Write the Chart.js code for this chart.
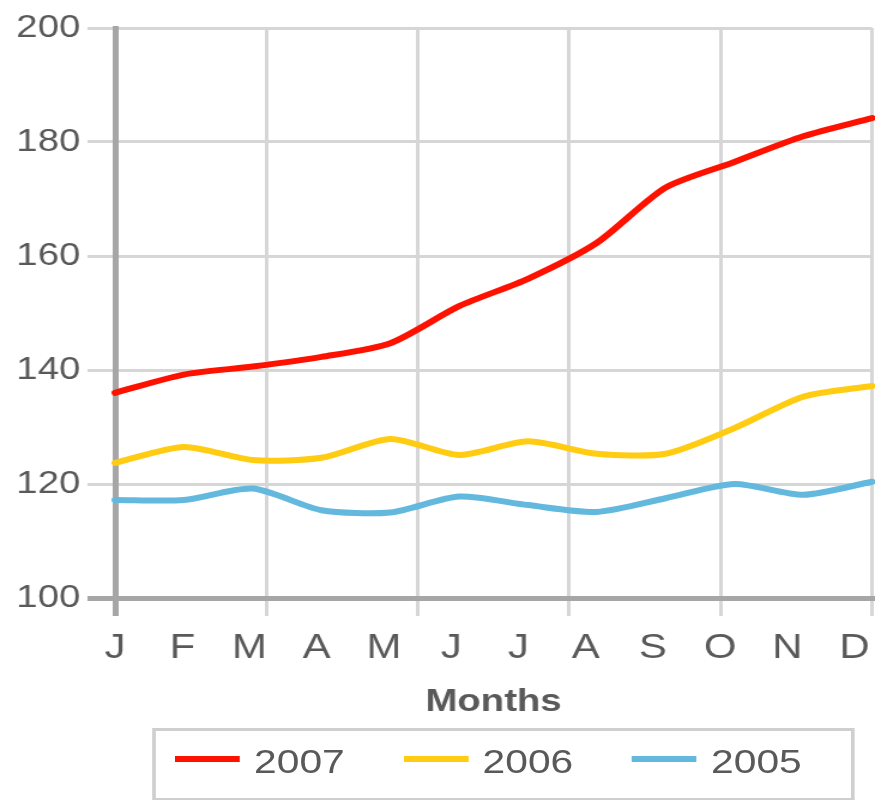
<!DOCTYPE html>
<html>
<head>
<meta charset="utf-8">
<script src="https://cdn.jsdelivr.net/npm/chart.js@4/dist/chart.umd.min.js"></script>
<style>
  html, body { margin: 0; padding: 0; background: #fff; overflow: hidden; }
  /* the reference is horizontally stretched, so draw narrow and scale */
  #wrap { position: relative; width: 730px; height: 800px; transform: scaleX(1.1986); transform-origin: 0 0; }
  #legend {
    position: absolute; left: 127px; top: 728px; width: 586px; height: 72px;
    box-sizing: border-box; border: 3px solid #cfcfcf; border-bottom-width: 2px;
    padding: 13px 0 0 16px; display: flex; align-items: flex-start;
    font-family: "Liberation Sans", Arial, sans-serif; font-size: 34px; color: #595959;
  }
  .item { display: flex; align-items: center; height: 34px; line-height: 34px; margin-right: 49px; }
  .swatch { width: 54px; height: 6px; margin-right: 12px; position: relative; top: -2px; }
</style>
</head>
<body>
<div id="wrap">
  <canvas id="chart" width="730" height="800"></canvas>
  <div id="legend"></div>
</div>
<script>
// Data
var monthLabels = ['J', 'F', 'M', 'A', 'M', 'J', 'J', 'A', 'S', 'O', 'N', 'D'];
var seriesNames = ['2007', '2006', '2005'];
var values2007 = [136, 139.2, 140.6, 142.3, 144.7, 151.2, 156, 162.3, 172, 176.5, 181, 184.2];
var values2006 = [123.7, 126.5, 124.2, 124.6, 127.9, 125.1, 127.5, 125.3, 125.3, 129.8, 135.3, 137.2];
var values2005 = [117.2, 117.2, 119.2, 115.4, 115, 117.8, 116.3, 115.1, 117.5, 120, 118.1, 120.4];
var yTicks = [100, 120, 140, 160, 180, 200];

var colors = ['#ff1100', '#ffcc11', '#63b8de'];
var axisGray = '#a6a6a6';
var gridGray = '#d6d6d6';
var textGray = '#595959';
var fontFamily = '"Liberation Sans", Arial, sans-serif';

var ctx = document.getElementById('chart');
var chart = new Chart(ctx, {
  type: 'line',
  data: {
    labels: monthLabels,
    datasets: [values2007, values2006, values2005].map(function(vals, i) {
      return {
        label: seriesNames[i],
        data: vals,
        borderColor: colors[i],
        backgroundColor: colors[i],
        borderWidth: 6,
        pointRadius: 0,
        tension: 0.25,
        borderJoinStyle: 'round',
        borderCapStyle: 'round',
        fill: false
      };
    })
  },
  options: {
    responsive: false,
    animation: false,
    devicePixelRatio: 1,
    layout: { padding: { top: 28, right: 2.5, bottom: 72, left: 0 } },
    plugins: {
      legend: { display: false },
      tooltip: { enabled: false }
    },
    scales: {
      x: { type: 'category', display: false, offset: false },
      vgrid: {
        type: 'linear', axis: 'x', position: 'bottom', weight: 0,
        min: 0, max: 5,
        ticks: { display: false, stepSize: 1 },
        grid: {
          color: function(c) { return c.index === 0 ? axisGray : gridGray; },
          lineWidth: function(c) { return c.index === 0 ? 5 : 3; },
          tickLength: 18
        },
        border: { display: true, color: axisGray, width: 5 },
        afterFit: function(s) { s.paddingLeft = 0; s.paddingRight = 0; }
      },
      months: {
        type: 'linear', axis: 'x', position: 'bottom', weight: 1,
        min: 0, max: 11.26,
        afterBuildTicks: function(s) {
          s.ticks = monthLabels.map(function(_, i) { return { value: i }; });
        },
        ticks: {
          autoSkip: false, maxRotation: 0, padding: 11,
          color: textGray,
          font: { family: fontFamily, size: 35 },
          callback: function(v) { return monthLabels[v]; }
        },
        grid: { display: false, drawTicks: false },
        border: { display: false },
        title: {
          display: true, text: 'Months', color: textGray,
          font: { family: fontFamily, size: 32, weight: 'bold' },
          padding: { top: 0, bottom: 7 }
        },
        afterFit: function(s) { s.height = 112; s.paddingLeft = 0; s.paddingRight = 0; }
      },
      y: {
        min: 100, max: 200,
        afterBuildTicks: function(s) {
          s.ticks = yTicks.map(function(v) { return { value: v }; });
        },
        ticks: {
          padding: 6, color: textGray,
          font: { family: fontFamily, size: 32 }
        },
        grid: {
          color: function(c) { return c.tick && c.tick.value === 100 ? axisGray : gridGray; },
          lineWidth: function(c) { return c.tick && c.tick.value === 100 ? 5 : 3; },
          tickLength: 23
        },
        border: { display: true, color: axisGray, width: 5 },
        afterFit: function(s) { s.width = 96; }
      }
    }
  }
});

// HTML legend built from the datasets
var legend = document.getElementById('legend');
chart.data.datasets.forEach(function(ds) {
  var item = document.createElement('div');
  item.className = 'item';
  var sw = document.createElement('span');
  sw.className = 'swatch';
  sw.style.background = ds.borderColor;
  var tx = document.createElement('span');
  tx.textContent = ds.label;
  item.appendChild(sw);
  item.appendChild(tx);
  legend.appendChild(item);
});
</script>
</body>
</html>
